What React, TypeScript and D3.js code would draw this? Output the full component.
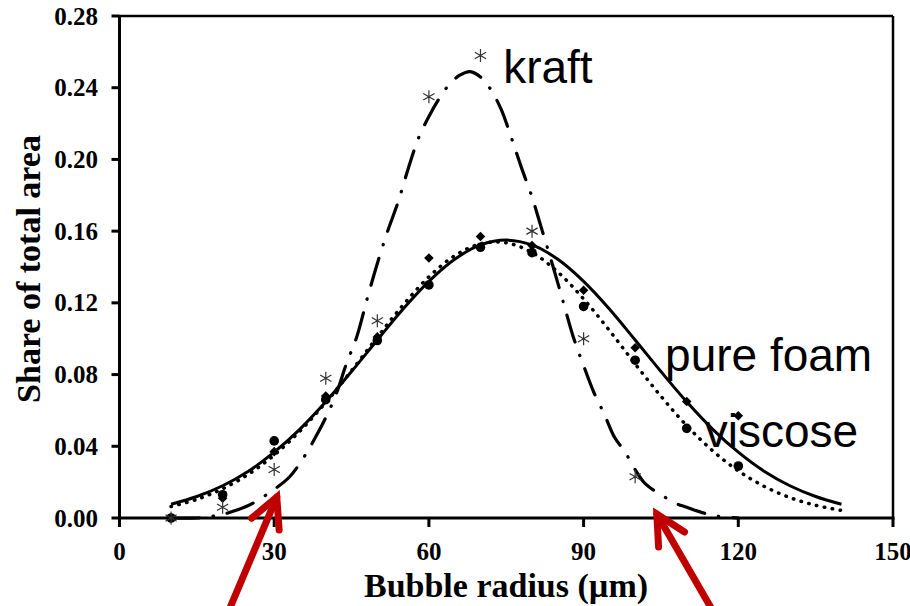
import React from "react";
import * as d3 from "d3";

// Axis ticks
const xTicks = [0, 30, 60, 90, 120, 150];
const yTicks = [0, 0.04, 0.08, 0.12, 0.16, 0.2, 0.24, 0.28];

// Measured points (bubble radius, µm)
const sampleX = [10, 20, 30, 40, 50, 60, 70, 80, 90, 100, 110, 120];
const pureFoamPts = [0.0, 0.011, 0.037, 0.068, 0.101, 0.145, 0.157, 0.152, 0.127, 0.095, 0.065, 0.057];
const viscosePts = [0.0, 0.013, 0.043, 0.066, 0.099, 0.130, 0.151, 0.148, 0.118, 0.088, 0.050, 0.029];
const kraftX = [10, 20, 30, 40, 50, 60, 70, 80, 90, 100];
const kraftPts = [0.0, 0.006, 0.027, 0.078, 0.110, 0.235, 0.258, 0.160, 0.100, 0.023];

// Fitted distributions
const fitX = [10, 15, 20, 25, 30, 35, 40, 45, 50, 55, 60, 65, 70, 75, 80, 85, 90, 95, 100, 105, 110, 115, 120, 125, 130, 135, 140];
const pureFoamFit = [0.0077, 0.012, 0.018, 0.0261, 0.0367, 0.0496, 0.0648, 0.0817, 0.0993, 0.1166, 0.132, 0.1443, 0.1523, 0.155, 0.1523, 0.1443, 0.132, 0.1166, 0.0993, 0.0817, 0.0648, 0.0496, 0.0367, 0.0261, 0.018, 0.012, 0.0077];
const viscoseFit = [0.0064, 0.0104, 0.0163, 0.0244, 0.0351, 0.0485, 0.0644, 0.0822, 0.1009, 0.1188, 0.1345, 0.1463, 0.1529, 0.1535, 0.1481, 0.1372, 0.1222, 0.1046, 0.0859, 0.0679, 0.0515, 0.0376, 0.0263, 0.0177, 0.0114, 0.0071, 0.0042];
const kraftFitX = [10, 15, 18, 20, 25, 30, 33, 36, 38, 40, 42, 44, 46, 48, 50, 52, 54, 56, 58, 60, 62, 64, 66, 68, 70, 72, 74, 76, 78, 80, 82, 84, 86, 88, 90, 92, 94, 96, 98, 100, 102, 105, 108, 110, 113, 116, 120];
const kraftFit = [0.0, 0.0, 0.001, 0.002, 0.007, 0.016, 0.023, 0.035, 0.045, 0.056, 0.069, 0.086, 0.101, 0.122, 0.142, 0.16, 0.176, 0.195, 0.212, 0.224, 0.234, 0.242, 0.247, 0.249, 0.246, 0.239, 0.228, 0.212, 0.195, 0.179, 0.16, 0.141, 0.121, 0.101, 0.085, 0.07, 0.058, 0.045, 0.037, 0.027, 0.019, 0.013, 0.008, 0.006, 0.003, 0.001, 0.0];

// Curve labels (data-space anchors)
const curveLabels = ["kraft", "pure foam", "viscose"];
const labelX = [74.4, 105.8, 113.5];
const labelY = [0.2427, 0.082, 0.0396];

// Red pointer arrows: tip and tail in data space
const arrowTipX = [30.5, 104.2];
const arrowTipY = [0.0117, 0.0022];
const arrowTailX = [21.0, 115.3];
const arrowTailY = [-0.053, -0.053];

const W = 910;
const H = 606;
const serif = "'Liberation Serif', 'Times New Roman', serif";
const sans = "'Liberation Sans', Arial, sans-serif";

export default function App() {
  const x = d3.scaleLinear().domain([0, 150]).range([119.5, 893]);
  const y = d3.scaleLinear().domain([0, 0.28]).range([518, 16]);

  const line = (xs: number[], ys: number[]) =>
    d3
      .line<number>()
      .x((_, i) => x(xs[i]))
      .y((d) => y(d))
      .curve(d3.curveCatmullRom.alpha(0.5))(ys) as string;

  const diamond = (r: number) => `M0,${-r}L${r},0L0,${r}L${-r},0Z`;
  const asterisk = (r: number) => {
    const a = r * Math.cos(Math.PI / 6);
    const b = r * Math.sin(Math.PI / 6);
    return `M0,${-r}L0,${r}M${-a},${-b}L${a},${b}M${-a},${b}L${a},${-b}`;
  };

  const arrows = arrowTipX.map((tx, i) => {
    const x1 = x(tx);
    const y1 = y(arrowTipY[i]);
    const x0 = x(arrowTailX[i]);
    const y0 = y(arrowTailY[i]);
    const ang = Math.atan2(y0 - y1, x0 - x1);
    const len = 33;
    const spread = (27 * Math.PI) / 180;
    const w1 = [x1 + len * Math.cos(ang + spread), y1 + len * Math.sin(ang + spread)];
    const w2 = [x1 + len * Math.cos(ang - spread), y1 + len * Math.sin(ang - spread)];
    return { x0, y0, x1, y1, w1, w2 };
  });

  return (
    <svg
      width={W}
      height={H}
      style={{ position: "absolute", left: 0, top: 0, background: "#fff" }}
    >
      <rect width={W} height={H} fill="#fff" />

      {/* frame */}
      <line x1={x(0)} x2={x(150)} y1={y(0.28)} y2={y(0.28)} stroke="#000" strokeWidth={2.5} />
      <line x1={x(150)} x2={x(150)} y1={y(0.28)} y2={y(0)} stroke="#000" strokeWidth={2.5} />

      {/* y axis */}
      <line x1={x(0)} x2={x(0)} y1={y(0.28) - 1} y2={y(0) + 1.5} stroke="#000" strokeWidth={3} />
      {yTicks.map((t) => (
        <g key={"y" + t}>
          <line x1={x(0) - 8} x2={x(0)} y1={y(t)} y2={y(t)} stroke="#000" strokeWidth={3} />
          <text
            x={98}
            y={y(t)}
            dy="0.34em"
            textAnchor="end"
            fontFamily={serif}
            fontWeight="bold"
            fontSize={25}
          >
            {d3.format(".2f")(t)}
          </text>
        </g>
      ))}

      {/* x axis */}
      <line x1={x(0) - 1.5} x2={x(150) + 1.5} y1={y(0)} y2={y(0)} stroke="#000" strokeWidth={3} />
      {xTicks.map((t) => (
        <g key={"x" + t}>
          <line x1={x(t)} x2={x(t)} y1={y(0)} y2={y(0) + 9} stroke="#000" strokeWidth={3} />
          <text
            x={x(t)}
            y={560}
            textAnchor="middle"
            fontFamily={serif}
            fontWeight="bold"
            fontSize={25}
          >
            {t}
          </text>
        </g>
      ))}

      {/* axis titles */}
      <text
        x={506}
        y={597}
        textAnchor="middle"
        fontFamily={serif}
        fontWeight="bold"
        fontSize={34}
      >
        Bubble radius (µm)
      </text>
      <text
        transform={`translate(40,${269}) rotate(-90)`}
        textAnchor="middle"
        fontFamily={serif}
        fontWeight="bold"
        fontSize={34}
      >
        Share of total area
      </text>

      {/* fitted curves */}
      <path
        d={line(kraftFitX, kraftFit)}
        fill="none"
        stroke="#000"
        strokeWidth={3.2}
        strokeLinecap="round"
        strokeDasharray="28 14 0.5 14"
      />
      <path
        d={line(fitX, viscoseFit)}
        fill="none"
        stroke="#000"
        strokeWidth={3.5}
        strokeLinecap="round"
        strokeDasharray="0.5 7.5"
      />
      <path d={line(fitX, pureFoamFit)} fill="none" stroke="#000" strokeWidth={3} />

      {/* measured points */}
      {sampleX.map((v, i) => (
        <path
          key={"pf" + v}
          d={diamond(4.8)}
          transform={`translate(${x(v)},${y(pureFoamPts[i])})`}
          fill="#000"
        />
      ))}
      {sampleX.map((v, i) => (
        <circle key={"vc" + v} cx={x(v)} cy={y(viscosePts[i])} r={4.8} fill="#000" />
      ))}
      {kraftX.map((v, i) => (
        <path
          key={"kr" + v}
          d={asterisk(6.5)}
          transform={`translate(${x(v)},${y(kraftPts[i])})`}
          fill="none"
          stroke="#333"
          strokeWidth={1.2}
        />
      ))}

      {/* curve labels */}
      {curveLabels.map((s, i) => (
        <text key={s} x={x(labelX[i])} y={y(labelY[i])} fontFamily={sans} fontSize={46} fill="#000">
          {s}
        </text>
      ))}

      {/* pointer arrows */}
      {arrows.map((a, i) => (
        <g key={"ar" + i} stroke="#c00000" strokeWidth={7} strokeLinecap="round" fill="none">
          <line x1={a.x0} y1={a.y0} x2={a.x1} y2={a.y1} />
          <polyline points={`${a.w1[0]},${a.w1[1]} ${a.x1},${a.y1} ${a.w2[0]},${a.w2[1]}`} strokeLinejoin="miter" />
        </g>
      ))}
    </svg>
  );
}
